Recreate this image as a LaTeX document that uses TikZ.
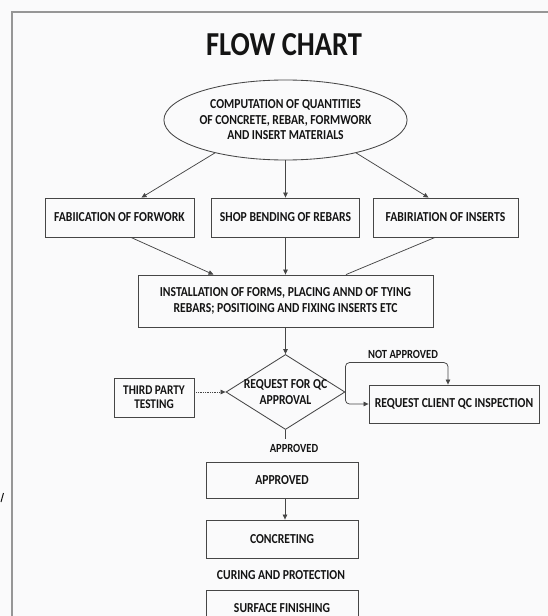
\documentclass[tikz,border=0pt]{standalone}
\usepackage{fontspec}
\setmainfont{Carlito}[FakeStretch=0.85]
\usetikzlibrary{shapes.geometric,calc,arrows.meta}
\definecolor{bg}{RGB}{250,250,251}
\definecolor{ink}{RGB}{20,20,20}
\definecolor{edge}{RGB}{70,70,70}
\definecolor{frame}{RGB}{150,150,150}
\begin{document}
\begin{tikzpicture}[x=1pt,y=-1pt,
  txt/.style={font=\bfseries\fontsize{13.7}{15.5}\selectfont, text=ink, align=center},
  box/.style={txt, draw=edge, line width=0.85pt, rectangle, inner sep=0pt},
  lbl/.style={font=\bfseries\fontsize{12.4}{13}\selectfont, text=ink, inner sep=0pt},
  arr/.style={-{Triangle[length=5pt,width=4.5pt]}, draw=edge, line width=0.75pt},
  plain/.style={draw=edge, line width=0.75pt}]
\useasboundingbox (0,0) rectangle (548,616);
\clip (0,0) rectangle (548,616);
\fill[bg] (0,0) rectangle (548,616);
\draw[frame, line width=1.4pt] (12,640) -- (12,12) -- (570,12);
\draw[ink, line width=1pt] (1,502) -- (3.5,493);

\node[font=\bfseries\fontsize{33.5}{33}\selectfont, text=ink] (title) at (284,45) {FLOW CHART};

\node[txt, ellipse, draw=edge, line width=0.85pt, minimum width=232pt, minimum height=80pt, inner sep=0pt] (comp) at (285.5,120)
  {COMPUTATION OF QUANTITIES\\OF CONCRETE, REBAR, FORMWORK\\AND INSERT MATERIALS};

\node[box, minimum width=149pt, minimum height=39pt] (f1) at (119.5,217.5) {FABIICATION OF FORWORK};
\node[box, minimum width=148pt, minimum height=39pt] (f2) at (285.5,217.5) {SHOP BENDING OF REBARS};
\node[box, minimum width=145pt, minimum height=39pt] (f3) at (445.5,217.5) {FABIRIATION OF INSERTS};

\draw[arr] (comp.-155) -- ($(f1.north)+(22,0)$);
\draw[arr] (comp.south) -- (f2.north);
\draw[arr] (comp.-25) -- ($(f3.north)+(-17,0)$);

\node[box, minimum width=295pt, minimum height=52pt] (inst) at (285.5,301)
  {INSTALLATION OF FORMS, PLACING ANND OF TYING\\REBARS; POSITIOING AND FIXING INSERTS ETC};

\draw[arr] ($(f1.south)+(11.5,0)$) -- ($(inst.north)+(-72,0)$);
\draw[arr] (f2.south) -- (inst.north);
\draw[plain] ($(f3.south)+(-10.5,0)$) -- ($(inst.north)+(60.5,0)$);

\node[diamond, draw=edge, line width=0.85pt, minimum width=119pt, minimum height=75pt, inner sep=0pt,
  label={[txt, inner sep=0pt]center:REQUEST FOR QC\\APPROVAL}] (q) at (285.5,392) {};
\draw[arr] (inst.south) -- (q.north);

\node[box, font=\bfseries\fontsize{13.3}{14}\selectfont, minimum width=80pt, minimum height=39pt] (tp) at (154,397.5) {THIRD PARTY\\TESTING};
\draw[arr, densely dotted] (tp.east |- q.west) -- (q.west);

\node[box, minimum width=170pt, minimum height=38pt] (rc) at (454,404) {REQUEST CLIENT QC INSPECTION};
\draw[arr, rounded corners=4pt] (q.east) |- ($(rc.north)+(-6,-22)$) -- ($(rc.north)+(-6,0)$);
\draw[arr, rounded corners=4pt] (q.east) |- (rc.west);
\node[lbl] (na) at (403,354) {NOT APPROVED};

\draw[plain] (q.south) -- ($(q.south)+(0,9)$);
\node[lbl] (apl) at (294,448) {APPROVED};

\node[box, minimum width=152pt, minimum height=36pt] (ap) at (282,480) {APPROVED};
\node[box, minimum width=152pt, minimum height=38pt] (conc) at (282,539) {CONCRETING};
\draw[arr] ($(ap.south)+(3,0)$) -- ($(conc.north)+(3,0)$);

\node[txt, inner sep=0pt] (cur) at (281,575) {CURING AND PROTECTION};
\node[box, minimum width=152pt, minimum height=36pt] (sf) at (282,608) {SURFACE FINISHING};
\end{tikzpicture}
\end{document}
